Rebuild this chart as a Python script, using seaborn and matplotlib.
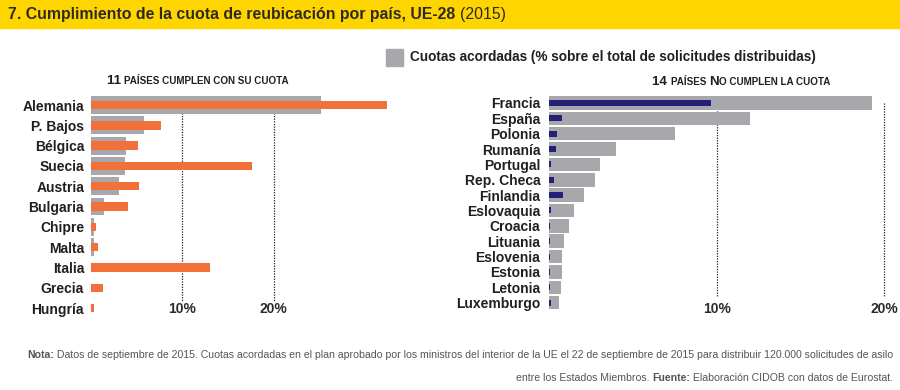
import numpy as np
import pandas as pd
import matplotlib.pyplot as plt
import seaborn as sns
from matplotlib.patches import Rectangle
from matplotlib.transforms import blended_transform_factory
from matplotlib.offsetbox import TextArea, HPacker, AnchoredOffsetbox

# data (% of EU total)
countries_ok = ["Alemania", "P. Bajos", "Bélgica", "Suecia", "Austria", "Bulgaria",
                "Chipre", "Malta", "Italia", "Grecia", "Hungría"]
quota_ok = [25.2, 5.8, 3.8, 3.7, 3.1, 1.4, 0.35, 0.35, 0.0, 0.0, 0.0]
share_ok = [32.4, 7.7, 5.2, 17.6, 5.3, 4.1, 0.6, 0.8, 13.0, 1.3, 0.35]

countries_ko = ["Francia", "España", "Polonia", "Rumanía", "Portugal", "Rep. Checa",
                "Finlandia", "Eslovaquia", "Croacia", "Lituania", "Eslovenia",
                "Estonia", "Letonia", "Luxemburgo"]
quota_ko = [19.25, 12.0, 7.5, 4.0, 3.05, 2.75, 2.05, 1.5, 1.17, 0.88, 0.76, 0.76, 0.7, 0.58]
share_ko = [9.65, 0.76, 0.44, 0.38, 0.08, 0.26, 0.82, 0.1, 0.05, 0.05, 0.05, 0.05, 0.05, 0.1]

grid_ticks = [10, 20]

GRAY = "#a8a7ac"
ORANGE = "#f2713a"
NAVY = "#23207a"
YELLOW = "#ffd500"
DARK = "#231f20"

sns.set_theme(style="white")
plt.rcParams['font.family'] = ['Liberation Sans', 'DejaVu Sans']

W, H = 900, 390
fig = plt.figure(figsize=(9, 3.9), dpi=100)


def px_axes(left, top, width, height):
    return fig.add_axes([left / W, 1 - (top + height) / H, width / W, height / H])


def rich_text(parts, x, y, loc):
    boxes = [TextArea(s, textprops=dict(fontsize=size, fontweight=weight, color=color))
             for s, size, weight, color in parts]
    pack = HPacker(children=boxes, align="baseline", pad=0, sep=0)
    box = AnchoredOffsetbox(loc=loc, child=pack, pad=0, borderpad=0, frameon=False,
                            bbox_to_anchor=(x / W, 1 - y / H),
                            bbox_transform=fig.transFigure)
    fig.add_artist(box)


def panel(ax, names, quota, share, share_color, share_width, xmax, label_pad):
    df = pd.DataFrame({"pais": names, "cuota": quota, "recibidas": share})
    sns.barplot(data=df, x="cuota", y="pais", color=GRAY, width=0.88,
                saturation=1, linewidth=0, ax=ax, zorder=2)
    sns.barplot(data=df, x="recibidas", y="pais", color=share_color, width=share_width,
                saturation=1, linewidth=0, ax=ax, zorder=3)
    ax.vlines(grid_ticks, 0, len(names) - 1.35, colors="#222222",
              linestyles=(0, (1, 1.1)), linewidth=0.9, zorder=1)
    ax.set_xlim(0, xmax)
    ax.set_ylim(len(names) - 0.5, -0.5)
    ax.set_xlabel("")
    ax.set_ylabel("")
    ax.set_xticks([])
    ax.tick_params(axis="y", length=0, pad=label_pad, labelsize=10, labelcolor=DARK)
    for lbl in ax.get_yticklabels():
        lbl.set_fontweight("bold")
    sns.despine(ax=ax, left=True, bottom=True)
    tr = blended_transform_factory(ax.transData, fig.transFigure)
    for t in grid_ticks:
        ax.text(t, 1 - 309 / H, f"{t}%", transform=tr, ha="center", va="center",
                fontsize=10, fontweight="bold", color="#2b2b2b")


ax1 = px_axes(91, 94.9, 300, 223.3)
panel(ax1, countries_ok, quota_ok, share_ok, ORANGE, 0.41, 300 / 9.13, 5)

ax2 = px_axes(549.3, 95.3, 344, 215)
panel(ax2, countries_ko, quota_ko, share_ko, NAVY, 0.39, 344 / 16.75, 6.5)

# title band
fig.patches.append(Rectangle((0, 1 - 28 / H), 1, 28 / H, transform=fig.transFigure,
                             color=YELLOW, zorder=0))
rich_text([("7. Cumplimiento de la cuota de reubicación por país, UE-28 ", 11.4, "bold", "#2e2a1f"),
           ("(2015)", 11.4, "normal", "#2e2a1f")], 8, 14, "center left")

# legend
fig.patches.append(Rectangle((386 / W, 1 - 66 / H), 17 / W, 17 / H, transform=fig.transFigure,
                             color=GRAY, zorder=1))
fig.text(410 / W, 1 - 57 / H, "Cuotas acordadas (% sobre el total de solicitudes distribuidas)",
         fontsize=9.8, fontweight="bold", color=DARK, va="center")

# panel subtitles
rich_text([("11 ", 9.5, "bold", DARK), ("PAÍSES CUMPLEN CON SU CUOTA", 7.1, "bold", DARK)],
          198, 81, "center")
rich_text([("14 ", 9.5, "bold", DARK), ("PAÍSES ", 7.1, "bold", DARK), ("N", 9.5, "bold", DARK),
           ("O CUMPLEN LA CUOTA", 7.1, "bold", DARK)], 830, 82, "center right")

# footnote
NOTE = "#555555"
FS = 7.57
rich_text([("Nota:", FS, "bold", NOTE),
           (" Datos de septiembre de 2015. Cuotas acordadas en el plan aprobado por los ministros "
            "del interior de la UE el 22 de septiembre de 2015 para distribuir 120.000 "
            "solicitudes de asilo", FS, "normal", NOTE)], 893, 355, "center right")
rich_text([("entre los Estados Miembros. ", FS, "normal", NOTE), ("Fuente:", FS, "bold", NOTE),
           (" Elaboración CIDOB con datos de Eurostat.", FS, "normal", NOTE)],
          893, 378, "center right")

fig.savefig("out.png", dpi=100, facecolor="white")
